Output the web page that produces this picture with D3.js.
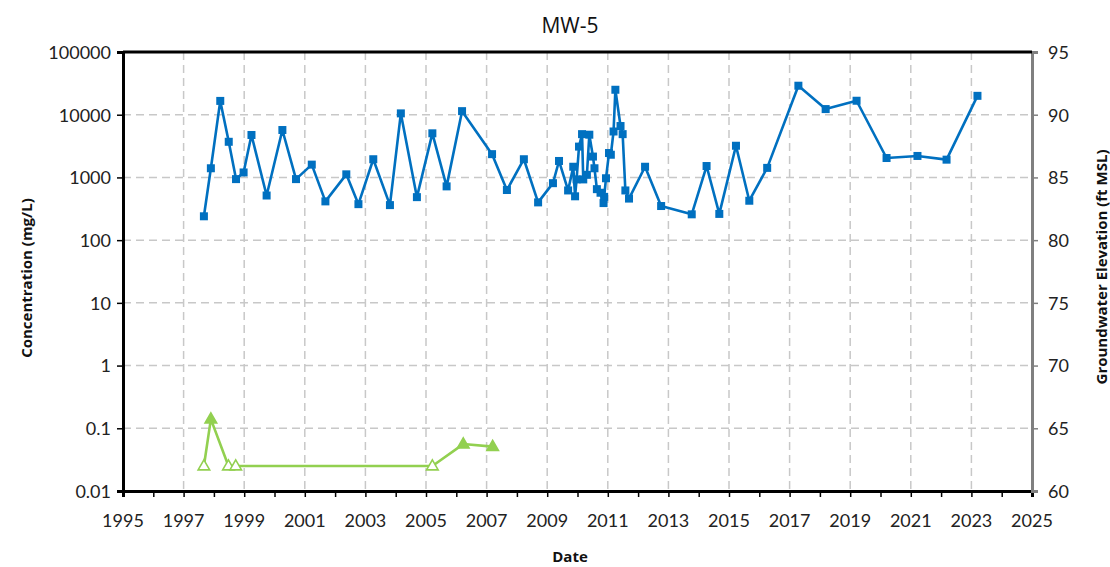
<!DOCTYPE html>
<html>
<head>
<meta charset="utf-8">
<script src="https://cdnjs.cloudflare.com/ajax/libs/d3/7.8.5/d3.min.js"></script>
<style>
    body { margin: 0; background: #fff; }
    .tick-label { font-family: Lato, "Open Sans", sans-serif; font-size: 18px; fill: #222; }
    .axis-title { font-family: "Open Sans", Lato, sans-serif; font-size: 15px; font-weight: bold; fill: #111; }
    .grid line { stroke: #c8c8c8; stroke-width: 1.5; stroke-dasharray: 8,5; }
</style>
</head>
<body>
<svg id="chart"></svg>
<script>
// Sample dates (decimal years) and concentrations (mg/L)
var blueDates = [1997.67, 1997.90, 1998.21, 1998.49, 1998.73, 1998.98, 1999.24, 1999.74, 2000.26, 2000.71,
    2001.23, 2001.68, 2002.37, 2002.77, 2003.26, 2003.81, 2004.17, 2004.70, 2005.21, 2005.68,
    2006.19, 2007.18, 2007.67, 2008.23, 2008.70, 2009.19, 2009.39, 2009.69, 2009.86, 2009.92,
    2009.97, 2010.05, 2010.15, 2010.19, 2010.31, 2010.39, 2010.51, 2010.56, 2010.64, 2010.76,
    2010.86, 2010.88, 2010.94, 2011.04, 2011.10, 2011.19, 2011.25, 2011.42, 2011.49, 2011.58,
    2011.70, 2012.23, 2012.76, 2013.77, 2014.26, 2014.68, 2015.23, 2015.67, 2016.26, 2017.29,
    2018.19, 2019.21, 2020.20, 2021.22, 2022.18, 2023.20];
var blueValues = [240, 1400, 16600, 3700, 940, 1200, 4750, 515, 5700, 940,
    1600, 415, 1120, 375, 1950, 362, 10500, 485, 5050, 720,
    11400, 2350, 630, 1950, 400, 810, 1830, 620, 1480, 500,
    930, 3100, 4900, 930, 1100, 4800, 2150, 1400, 650, 570,
    390, 490, 970, 2450, 2300, 5400, 25000, 6600, 4900, 620,
    460, 1480, 350, 258, 1520, 262, 3200, 425, 1420, 29000,
    12300, 16700, 2040, 2200, 1920, 20000];

var greenDates = [1997.67, 1997.90, 1998.48, 1998.72, 2005.21, 2006.23, 2007.20];
var greenValues = [0.025, 0.14, 0.025, 0.025, 0.025, 0.056, 0.051];
var greenDetected = [false, true, false, false, false, true, true];

var yTicks = [0.01, 0.1, 1, 10, 100, 1000, 10000, 100000];
var yRightTicks = [60, 65, 70, 75, 80, 85, 90, 95];
var xLabelYears = d3.range(1995, 2026, 2);
var xTickYears = d3.range(1995, 2026, 1);

var width = 1110, height = 567;
var plotLeft = 123, plotRight = 1032, plotTop = 52, plotBottom = 491;

var svg = d3.select("#chart").attr("width", width).attr("height", height);

var x = d3.scaleLinear().domain([1995, 2025]).range([plotLeft, plotRight]);
var y = d3.scaleLog().domain([0.01, 100000]).range([plotBottom, plotTop]);
var yRight = d3.scaleLinear().domain([60, 95]).range([plotBottom, plotTop]);

// Gridlines
var grid = svg.append("g").attr("class", "grid");
grid.selectAll(".vg")
    .data(xLabelYears.filter(function (d) { return d > 1995 && d < 2025; }))
    .enter().append("line")
    .attr("x1", function (d) { return x(d); }).attr("x2", function (d) { return x(d); })
    .attr("y1", plotTop).attr("y2", plotBottom);
grid.selectAll(".hg")
    .data(yTicks.filter(function (d) { return d > 0.01 && d < 100000; }))
    .enter().append("line")
    .attr("x1", plotLeft).attr("x2", plotRight)
    .attr("y1", function (d) { return y(d); }).attr("y2", function (d) { return y(d); });

// Axes
var xAxis = d3.axisBottom(x).tickValues(xTickYears).tickSize(6).tickFormat("");
svg.append("g").attr("transform", "translate(0," + plotBottom + ")").call(xAxis)
    .call(function (g) {
        g.select(".domain").attr("stroke", "#000").attr("stroke-width", 3);
        g.selectAll(".tick line").attr("stroke", "#000").attr("stroke-width", 1.5);
    });
svg.append("g").selectAll("text").data(xLabelYears).enter().append("text")
    .attr("class", "tick-label")
    .attr("x", function (d) { return x(d); })
    .attr("y", plotBottom + 36)
    .attr("text-anchor", "middle")
    .text(function (d) { return d; });

var yAxis = d3.axisLeft(y).tickValues(yTicks).tickSize(6);
svg.append("g").attr("transform", "translate(" + plotLeft + ",0)").call(yAxis)
    .call(function (g) {
        g.select(".domain").attr("stroke", "#000").attr("stroke-width", 3);
        g.selectAll(".tick line").attr("stroke", "#000").attr("stroke-width", 1.5);
        g.selectAll(".tick text").attr("class", "tick-label").attr("x", -12).attr("dy", "0.35em")
            .text(function (d) { return d >= 1 ? d3.format("d")(d) : String(d); });
    });

var yAxisR = d3.axisRight(yRight).tickValues(yRightTicks).tickSize(6);
svg.append("g").attr("transform", "translate(" + plotRight + ",0)").call(yAxisR)
    .call(function (g) {
        g.select(".domain").attr("stroke", "#808080").attr("stroke-width", 3);
        g.selectAll(".tick line").attr("stroke", "#808080").attr("stroke-width", 1.5);
        g.selectAll(".tick text").attr("class", "tick-label").attr("x", 16).attr("dy", "0.35em");
    });

// top border
svg.append("line").attr("x1", plotLeft).attr("x2", plotRight).attr("y1", plotTop).attr("y2", plotTop)
    .attr("stroke", "#000").attr("stroke-width", 3);

// Titles
svg.append("text").attr("x", 570).attr("y", 33).attr("text-anchor", "middle")
    .style("font-family", "'Open Sans', sans-serif").style("font-size", "21px").style("fill", "#111")
    .text("MW-5");
svg.append("text").attr("class", "axis-title").attr("x", 570).attr("y", 562)
    .attr("text-anchor", "middle").text("Date");
svg.append("text").attr("class", "axis-title")
    .attr("transform", "translate(32,278) rotate(-90)")
    .attr("text-anchor", "middle").text("Concentration (mg/L)");
svg.append("text").attr("class", "axis-title")
    .attr("transform", "translate(1107,267) rotate(-90)")
    .attr("text-anchor", "middle").text("Groundwater Elevation (ft MSL)");

// Blue series
var blue = "#0070C0", green = "#92D050";
var blueData = blueDates.map(function (d, i) { return [d, blueValues[i]]; });
var line = d3.line().x(function (d) { return x(d[0]); }).y(function (d) { return y(d[1]); });
svg.append("path").datum(blueData).attr("d", line)
    .attr("fill", "none").attr("stroke", blue).attr("stroke-width", 2.6).attr("stroke-linejoin", "round");
svg.append("g").selectAll("rect").data(blueData).enter().append("rect")
    .attr("x", function (d) { return x(d[0]) - 4; })
    .attr("y", function (d) { return y(d[1]) - 4; })
    .attr("width", 8).attr("height", 8).attr("fill", blue);

// Green series
var greenData = greenDates.map(function (d, i) { return [d, greenValues[i], greenDetected[i]]; });
svg.append("path").datum(greenData).attr("d", line)
    .attr("fill", "none").attr("stroke", green).attr("stroke-width", 2.6).attr("stroke-linejoin", "round");
var tri = d3.symbol().type(d3.symbolTriangle).size(58);
svg.append("g").selectAll("path").data(greenData).enter().append("path")
    .attr("d", tri)
    .attr("transform", function (d) { return "translate(" + x(d[0]) + "," + (y(d[1]) + 0.5) + ")"; })
    .attr("fill", function (d) { return d[2] ? green : "#fff"; })
    .attr("stroke", green).attr("stroke-width", 1.6);
</script>
</body>
</html>
